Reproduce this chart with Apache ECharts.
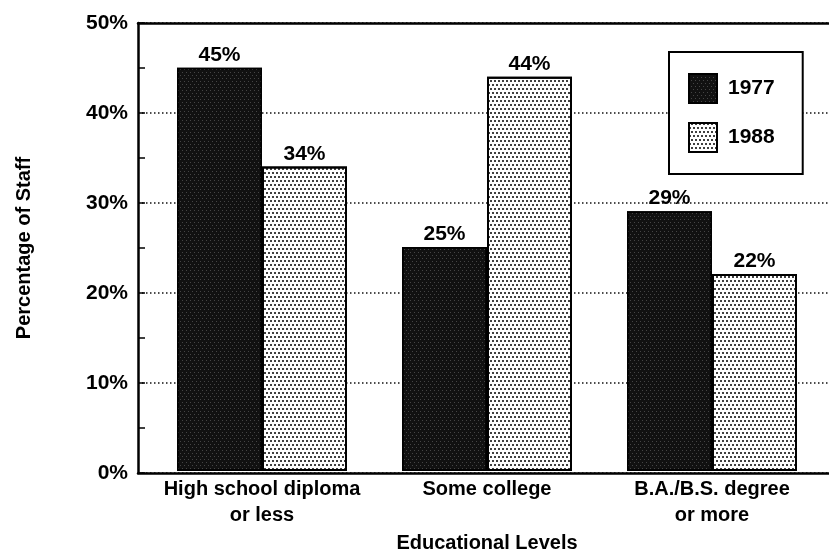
<!DOCTYPE html>
<html>
<head>
<meta charset="utf-8">
<script src="https://cdn.jsdelivr.net/npm/echarts@6/dist/echarts.min.js"></script>
<style>
html,body{margin:0;padding:0;background:#fff;}
#chart{width:829px;height:558px;}
</style>
</head>
<body>
<div id="chart"></div>
<script>
const categories = ['High school diploma\nor less', 'Some college', 'B.A./B.S. degree\nor more'];
const seriesNames = ['1977', '1988'];
const values1977 = [45, 25, 29];
const values1988 = [34, 44, 22];
const yMin = 0, yMax = 50, yStep = 10;

const FONT = '"Liberation Sans", Arial, Helvetica, sans-serif';
const chart = echarts.init(document.getElementById('chart'));

const darkStyle = {
  color: '#111',
  borderColor: '#000',
  borderWidth: 1.5,
  decal: {
    symbol: 'rect',
    symbolSize: 1,
    color: 'rgba(255,255,255,0.22)',
    dashArrayX: [[1, 3], [0, 2, 1, 1]],
    dashArrayY: [1, 2]
  }
};
const dotStyle = {
  color: '#fff',
  borderColor: '#000',
  borderWidth: 2,
  decal: {
    symbol: 'circle',
    symbolSize: 1,
    color: '#000',
    dashArrayX: [[1.6, 1.6], [0, 1.6, 1.6, 0]],
    dashArrayY: [1.6, 1.4]
  }
};

const option = {
  backgroundColor: '#fff',
  animation: false,
  legend: {
    orient: 'vertical',
    left: 669,
    top: 52,
    width: 138,
    padding: [21, 28, 21, 19],
    borderColor: '#000',
    borderWidth: 2,
    backgroundColor: '#fff',
    itemWidth: 28,
    itemHeight: 29,
    itemGap: 18,
    icon: 'rect',
    textStyle: { fontFamily: FONT, fontSize: 21, fontWeight: 'bold', color: '#000', padding: [0, 0, 0, 6] },
    data: seriesNames
  },
  grid: [
    { left: 138, right: -20, top: 23, bottom: 85 },
    { left: 149.5, width: 675, top: 23, bottom: 85 }
  ],
  xAxis: [
    {
      gridIndex: 0, type: 'value', min: 0, max: 1, position: 'bottom',
      axisLine: { show: true, lineStyle: { color: '#000', width: 2.5 } },
      axisTick: { show: false }, axisLabel: { show: false }, splitLine: { show: false }
    },
    {
      gridIndex: 0, type: 'value', min: 0, max: 1, position: 'top',
      axisLine: { show: true, lineStyle: { color: '#000', width: 2.5 } },
      axisTick: { show: false }, axisLabel: { show: false }, splitLine: { show: false }
    },
    {
      gridIndex: 1, type: 'category', data: categories,
      axisLine: { show: false }, axisTick: { show: false },
      axisLabel: {
        interval: 0, margin: 5,
        fontFamily: FONT, fontSize: 20, fontWeight: 'bold', color: '#000', lineHeight: 26
      },
      name: 'Educational Levels', nameLocation: 'middle', nameGap: 58,
      nameTextStyle: { fontFamily: FONT, fontSize: 20, fontWeight: 'bold', color: '#000' }
    }
  ],
  yAxis: [
    {
      gridIndex: 0, type: 'value', min: yMin, max: yMax, interval: yStep,
      axisLine: { show: true, lineStyle: { color: '#000', width: 2.5 } },
      axisTick: { show: true, inside: true, length: 7, lineStyle: { color: '#000', width: 1.5 } },
      minorTick: { show: true, splitNumber: 2, length: 7, lineStyle: { color: '#000', width: 1.5 } },
      axisLabel: {
        formatter: v => v + '%', margin: 10,
        fontFamily: FONT, fontSize: 21, fontWeight: 'bold', color: '#000'
      },
      splitLine: { show: true, lineStyle: { color: '#111', width: 1.5, type: [1.5, 2.5] } },
      name: 'Percentage of Staff', nameLocation: 'middle', nameGap: 104,
      nameTextStyle: { fontFamily: FONT, fontSize: 20, fontWeight: 'bold', color: '#000' }
    },
    {
      gridIndex: 1, type: 'value', min: yMin, max: yMax, show: false
    }
  ],
  series: [
    {
      name: seriesNames[0], type: 'bar', xAxisIndex: 2, yAxisIndex: 1,
      data: values1977, barWidth: 85, barGap: '0%',
      itemStyle: darkStyle,
      label: { show: true, position: 'top', distance: 2, formatter: p => p.value + '%',
        fontFamily: FONT, fontSize: 21, fontWeight: 'bold', color: '#000' }
    },
    {
      name: seriesNames[1], type: 'bar', xAxisIndex: 2, yAxisIndex: 1,
      data: values1988, barWidth: 85, barGap: '0%',
      itemStyle: dotStyle,
      label: { show: true, position: 'top', distance: 2, formatter: p => p.value + '%',
        fontFamily: FONT, fontSize: 21, fontWeight: 'bold', color: '#000' }
    }
  ]
};
chart.setOption(option);
</script>
</body>
</html>
